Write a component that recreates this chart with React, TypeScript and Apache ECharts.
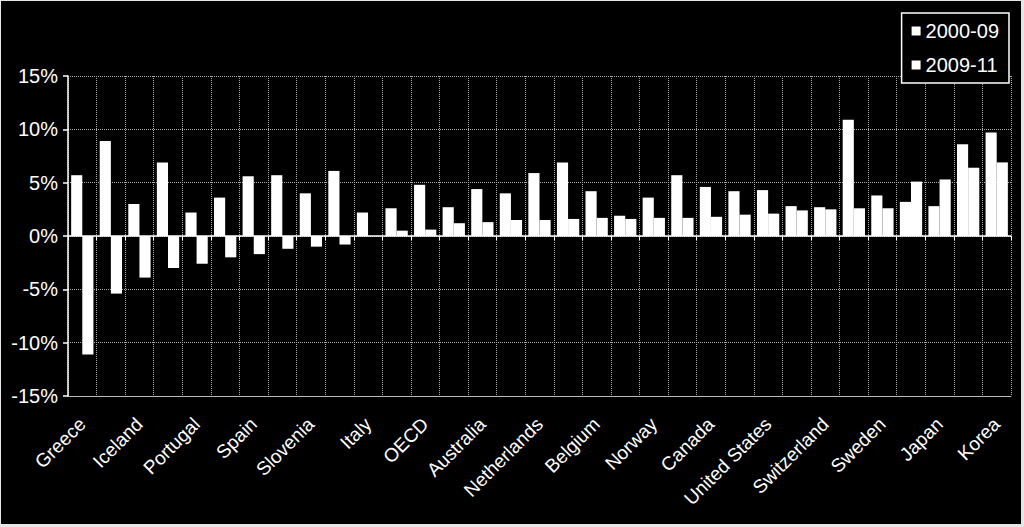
import React, { useEffect, useRef } from "react";
import * as echarts from "echarts";

const categories = [
  "Greece", "Ireland", "Iceland", "Hungary", "Portugal", "Estonia", "Spain",
  "United Kingdom", "Slovenia", "Czech Republic", "Italy", "Denmark", "OECD",
  "France", "Australia", "New Zealand", "Netherlands", "Slovak Republic",
  "Belgium", "Germany", "Norway", "Luxembourg", "Canada", "Finland",
  "United States", "Austria", "Switzerland", "Poland", "Sweden", "Israel",
  "Japan", "Chile", "Korea",
];

const series2000_09 = [
  5.7, 8.9, 3.0, 6.9, 2.2, 3.6, 5.6, 5.7, 4.0, 6.1, 2.2, 2.6, 4.8, 2.7, 4.4,
  4.0, 5.9, 6.9, 4.2, 1.9, 3.6, 5.7, 4.6, 4.2, 4.3, 2.8, 2.7, 10.9, 3.8, 3.2,
  2.8, 8.6, 9.7,
];

const series2009_11 = [
  -11.1, -5.4, -3.9, -3.0, -2.6, -2.0, -1.7, -1.2, -1.0, -0.8, 0.0, 0.5, 0.6,
  1.2, 1.3, 1.5, 1.5, 1.6, 1.7, 1.6, 1.7, 1.7, 1.8, 2.0, 2.1, 2.4, 2.5, 2.6,
  2.6, 5.1, 5.3, 6.4, 6.9,
];

const yTicks = { min: -15, max: 15, interval: 5 };

export default function App() {
  const ref = useRef<HTMLDivElement>(null);

  useEffect(() => {
    document.body.style.margin = "0";
    const chart = echarts.init(ref.current!, undefined, { renderer: "svg" });
    const font = "Liberation Sans, Arial, sans-serif";
    chart.setOption({
      animation: false,
      backgroundColor: "#000",
      textStyle: { fontFamily: font },
      grid: { left: 67, right: 10, top: 75, bottom: 128, containLabel: false },
      legend: {
        orient: "vertical",
        right: 12,
        top: 12,
        padding: [8, 10, 8, 10],
        itemGap: 14,
        itemWidth: 9,
        itemHeight: 9,
        icon: "rect",
        borderColor: "#fff",
        borderWidth: 1.5,
        backgroundColor: "#000",
        textStyle: { color: "#fff", fontSize: 20, fontFamily: font },
        data: ["2000-09", "2009-11"],
      },
      xAxis: [
        {
          type: "category",
          data: categories,
          position: "bottom",
          axisLine: { show: true, onZero: false, lineStyle: { color: "#bbb", width: 1 } },
          axisTick: { show: false },
          splitLine: {
            show: true,
            interval: 0,
            lineStyle: { color: "#aaa", type: [1, 1], width: 1 },
          },
          axisLabel: {
            interval: 1,
            rotate: 45,
            margin: 25,
            color: "#fff",
            fontSize: 19,
            fontFamily: font,
          },
        },
        {
          type: "category",
          data: categories,
          position: "bottom",
          axisLine: { show: true, onZero: true, lineStyle: { color: "#fff", width: 1.5 } },
          axisTick: { show: true, interval: 0, length: 4, lineStyle: { color: "#fff", width: 1 } },
          axisLabel: { show: false },
          splitLine: { show: false },
        },
      ],
      yAxis: {
        type: "value",
        min: yTicks.min,
        max: yTicks.max,
        interval: yTicks.interval,
        axisLine: { show: true, lineStyle: { color: "#fff", width: 1.5 } },
        axisTick: { show: true, length: 5, lineStyle: { color: "#fff", width: 1.5 } },
        splitLine: { show: true, lineStyle: { color: "#aaa", type: [1, 1], width: 1 } },
        axisLabel: {
          color: "#fff",
          fontSize: 20,
          margin: 10,
          fontFamily: font,
          formatter: (v: number) => `${v}%`,
        },
      },
      series: [
        {
          name: "2000-09",
          type: "bar",
          xAxisIndex: 0,
          data: series2000_09,
          barGap: "0%",
          barCategoryGap: "22%",
          itemStyle: { color: "#fff" },
        },
        {
          name: "2009-11",
          type: "bar",
          xAxisIndex: 0,
          data: series2009_11,
          barGap: "0%",
          barCategoryGap: "22%",
          itemStyle: { color: "#fff" },
        },
      ],
    });
    return () => chart.dispose();
  }, []);

  return (
    <div
      style={{
        position: "absolute",
        left: 0,
        top: 0,
        width: 1024,
        height: 527,
        background: "#e6e6e6",
      }}
    >
      <div
        ref={ref}
        style={{ position: "absolute", left: 1, top: 1, width: 1020, height: 523 }}
      />
    </div>
  );
}
